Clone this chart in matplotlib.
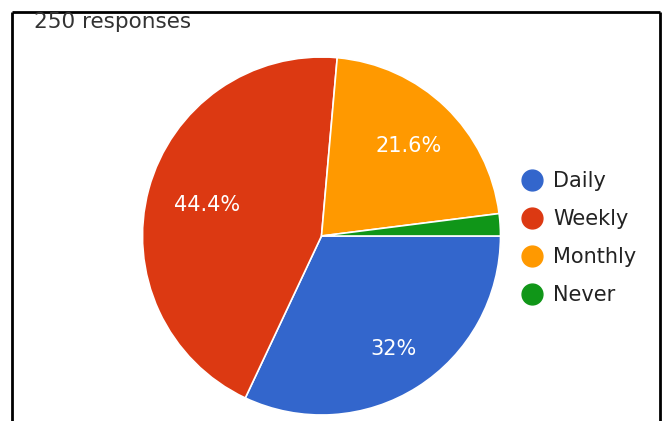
import matplotlib
matplotlib.use("Agg")
import matplotlib.pyplot as plt
from matplotlib.lines import Line2D
import numpy as np

categories = ["Daily", "Weekly", "Monthly", "Never"]
values = [32.0, 44.4, 21.6, 2.0]
pct_labels = ["32%", "44.4%", "21.6%", ""]
colors = ["#3366CC", "#DC3912", "#FF9900", "#109618"]
title = "250 responses"

plt.rcParams['font.family'] = ['DejaVu Sans']

W, H = 663, 421
fig = plt.figure(figsize=(W / 100, H / 100), dpi=100)
ax = fig.add_axes([0, 0, 1, 1])

cx, cy, r = 321.5, H - 236, 179
wedges, texts = ax.pie(values, startangle=0, counterclock=False, colors=colors,
                       center=(cx, cy), radius=r,
                       wedgeprops=dict(edgecolor='white', linewidth=1.2),
                       frame=True)
ax.set_xlim(0, W)
ax.set_ylim(0, H)
ax.set_aspect('equal')
ax.axis('off')

# percentage labels
dist = [0.75, 0.66, 0.70, 0.7]
for w, lab, d in zip(wedges, pct_labels, dist):
    if not lab:
        continue
    ang = np.deg2rad((w.theta1 + w.theta2) / 2)
    ax.text(cx + d * r * np.cos(ang), cy + d * r * np.sin(ang), lab,
            color='white', fontsize=15, ha='center', va='center')

# frame lines
ax.plot([11.5, 11.5], [0, H - 11.5], color='black', lw=2, solid_capstyle='butt')
ax.plot([11.5, 659.5], [H - 11.5, H - 11.5], color='black', lw=2, solid_capstyle='butt')
ax.plot([659.5, 659.5], [0, H - 11.5], color='black', lw=2, solid_capstyle='butt')

ax.text(34, H - 22, title, fontsize=15.5, color='#333333', ha='left', va='center')

handles = [Line2D([], [], marker='o', linestyle='', markersize=15,
                  markerfacecolor=c, markeredgecolor=c) for c in colors]
leg = ax.legend(handles, categories, loc='center left',
                bbox_to_anchor=(502 / W, 1 - 238 / H), frameon=False,
                fontsize=15, handletextpad=0.45, labelspacing=0.87,
                handlelength=1.1, labelcolor='#222222')

fig.savefig("out.png", dpi=100)
